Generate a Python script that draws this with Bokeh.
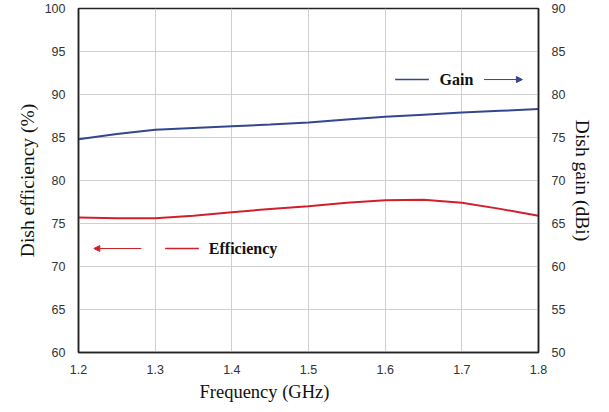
from bokeh.plotting import figure
from bokeh.models import Range1d, LinearAxis, FixedTicker, Arrow, NormalHead, Title
from bokeh.core.properties import value
from bokeh.embed import file_html
from bokeh.resources import INLINE

freq = [1.20, 1.25, 1.30, 1.35, 1.40, 1.45, 1.50, 1.55, 1.60, 1.65, 1.70, 1.75, 1.80]
efficiency = [75.7, 75.6, 75.6, 75.9, 76.3, 76.7, 77.0, 77.4, 77.7, 77.75, 77.4, 76.7, 75.9]
gain = [74.8, 75.4, 75.9, 76.1, 76.3, 76.5, 76.75, 77.1, 77.4, 77.65, 77.9, 78.1, 78.3]

x_ticks = [1.2, 1.3, 1.4, 1.5, 1.6, 1.7, 1.8]
x_tick_labels = ["1.2", "1.3", "1.4", "1.5", "1.6", "1.7", "1.8"]
eff_ticks = [60, 65, 70, 75, 80, 85, 90, 95, 100]
gain_ticks = [50, 55, 60, 65, 70, 75, 80, 85, 90]

BLUE = "#34468e"
RED = "#d1202c"
TICK_FONT = "Liberation Sans"
SERIF = "Liberation Serif"

p = figure(width=605, height=406, output_backend="svg", toolbar_location=None,
           x_range=Range1d(1.2, 1.8), y_range=Range1d(60, 100),
           min_border_left=78, min_border_right=67, min_border_top=8, min_border_bottom=54)
p.extra_y_ranges = {"gain": Range1d(50, 90)}

p.outline_line_color = "#222222"
p.outline_line_width = 1.5

p.xaxis.ticker = FixedTicker(ticks=x_ticks)
p.xaxis.major_label_overrides = {t: l for t, l in zip(x_ticks, x_tick_labels)}
p.yaxis.ticker = FixedTicker(ticks=eff_ticks)

right = LinearAxis(y_range_name="gain", ticker=FixedTicker(ticks=gain_ticks))
p.add_layout(right, "right")

for ax in [p.xaxis[0], p.yaxis[0], right]:
    ax.major_label_text_font = TICK_FONT
    ax.major_label_text_font_size = "12.5px"
    ax.major_label_text_color = "#333333"
    ax.major_tick_line_color = None
    ax.minor_tick_line_color = None
    ax.axis_line_color = "#222222"
    ax.axis_line_width = 1.5
    ax.axis_label_text_font = SERIF
    ax.axis_label_text_font_style = "normal"
    ax.axis_label_text_font_size = "19.5px"
    ax.axis_label_text_color = "#111111"

p.yaxis.axis_label = "Dish efficiency (%)"
right.axis_label = "Dish gain (dBi)"
p.xaxis.major_label_standoff = 6
p.yaxis.major_label_standoff = 7
p.yaxis.axis_label_standoff = 4
right.major_label_standoff = 7
right.axis_label_standoff = 4

# x-axis title (off-centre in the original)
p.add_layout(Title(text="Frequency (GHz)", align="left", offset=121, standoff=7,
                   text_font=SERIF, text_font_size="18.5px", text_font_style="normal",
                   text_color="#111111"), "below")

p.xgrid.grid_line_color = "#cfcfcf"
p.ygrid.grid_line_color = "#cfcfcf"
p.xgrid.ticker = FixedTicker(ticks=x_ticks)
p.ygrid.ticker = FixedTicker(ticks=eff_ticks)

p.line(freq, efficiency, line_color=RED, line_width=2)
p.line(freq, gain, line_color=BLUE, line_width=2, y_range_name="gain")

gy = 91.74
p.line([1.613, 1.657], [gy, gy], line_color=BLUE, line_width=1.5)
p.text([1.671], [gy], text=["Gain"], text_font=value(SERIF), text_font_style="bold",
       text_font_size="16px", text_baseline="middle", text_align="left", text_color="#111111")
p.add_layout(Arrow(x_start=1.729, y_start=gy, x_end=1.779, y_end=gy,
                   line_color=BLUE, line_width=1,
                   end=NormalHead(size=6, line_color=BLUE, fill_color=BLUE)))

ey = 72.09
p.line([1.313, 1.357], [ey, ey], line_color=RED, line_width=1.5)
p.text([1.370], [ey], text=["Efficiency"], text_font=value(SERIF), text_font_style="bold",
       text_font_size="16px", text_baseline="middle", text_align="left", text_color="#111111")
p.add_layout(Arrow(x_start=1.282, y_start=ey, x_end=1.220, y_end=ey,
                   line_color=RED, line_width=1,
                   end=NormalHead(size=6, line_color=RED, fill_color=RED)))

open("out.html", "w").write(file_html(p, INLINE))
